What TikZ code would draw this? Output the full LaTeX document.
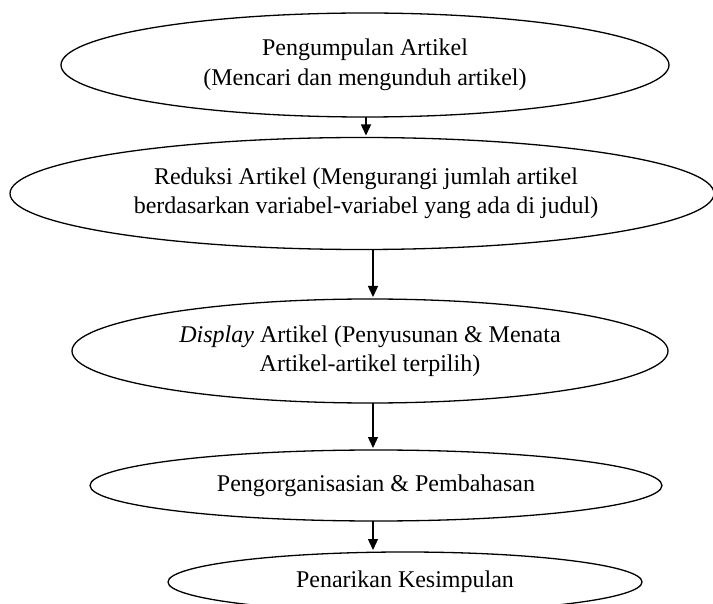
\documentclass[tikz,border=0pt]{standalone}
\usepackage{fontspec}
\setmainfont{Liberation Serif}
\usetikzlibrary{shapes.geometric,arrows.meta}
\tikzset{
  stagebox/.style={ellipse, draw=black, line width=1.3pt, inner sep=0pt, outer sep=0pt,
    align=center, font=\fontsize{24}{29.5}\selectfont},
  flowarrow/.style={draw=black, line width=1.3pt, -{Triangle[length=11pt,width=10pt]}, shorten >=2pt}
}
\begin{document}
\begin{tikzpicture}[x=1pt,y=-1pt]
\useasboundingbox (0,0) rectangle (713,604);
\node[stagebox, minimum width=608pt, minimum height=104pt] (e1) at (365,65)
  {Pengumpulan Artikel\\(Mencari dan mengunduh artikel)};
\node[stagebox, minimum width=704pt, minimum height=112pt] (e2) at (362,193.5)
  {\hspace*{8pt}Reduksi Artikel (Mengurangi jumlah artikel\\\hspace*{8pt}berdasarkan variabel-variabel yang ada di judul)};
\node[stagebox, minimum width=596pt, minimum height=104pt] (e3) at (370,351)
  {\textit{Display} Artikel (Penyusunan \& Menata\\Artikel-artikel terpilih)};
\node[stagebox, minimum width=572pt, minimum height=71pt] (e4) at (376,485.5)
  {Pengorganisasian \& Pembahasan};
\node[stagebox, minimum width=474pt, minimum height=60pt] (e5) at (405,582)
  {Penarikan Kesimpulan};
\coordinate (colA) at (366,0);
\coordinate (colB) at (373,0);
\draw[flowarrow] (e1.south -| colA) -- (e2.north -| colA);
\draw[flowarrow] (e2.south -| colB) -- (e3.north -| colB);
\draw[flowarrow] (e3.south -| colB) -- (e4.north -| colB);
\draw[flowarrow] (e4.south -| colB) -- (e5.north -| colB);
\end{tikzpicture}
\end{document}
